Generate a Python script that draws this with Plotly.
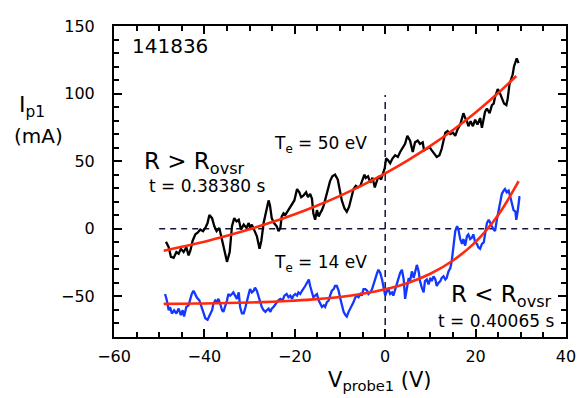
import plotly.graph_objects as go

# ---- data ----
black_v = [-48.5,-47.9,-47.4,-46.8,-46.2,-45.7,-45.2,-44.6,-44.0,-43.5,
           -43.1,-42.6,-42.0,-41.5,-40.9,-40.3,-39.8,-39.3,-38.9,-38.3,
           -37.8,-37.3,-36.7,-36.1,-35.6,-35.0,-34.4,-33.9,-33.4,-32.9,
           -32.4,-31.9,-31.3,-30.7,-30.2,-29.9,-29.5,-29.0,-28.4,-27.8,
           -27.4,-26.9,-26.3,-25.8,-25.5,-25.1,-24.6,
           -24.0,-23.6,-23.2,-22.9,-22.5,-22.1,-21.5,-21.0,-20.5,-20.1,
           -19.5,-19.0,-18.6,-18.1,-17.5,-17.1,-16.6,-16.2,-15.9,-15.5,
           -15.1,-14.7,-14.4,-14.0,-13.6,-13.3,-12.9,-12.5,-12.2,-11.7,
           -11.1,-10.5,-10.0,-9.6,-9.0,-8.5,-8.0,-7.5,-7.0,-6.5,
           -6.0,-5.5,-5.0,-4.6,-4.3,-3.8,-3.3,-2.8,-2.3,-1.8,
           -1.5,-0.9,-0.5,-0.1,0.2,0.6,1.1,1.6,2.2,2.8,
           3.3,3.8,
           4.4,4.9,5.5,6.1,6.6,7.2,7.7,8.3,8.6,9.2,
           9.8,10.3,10.8,11.4,12.0,12.5,12.9,13.3,13.8,14.4,
           15.0,15.5,16.0,16.6,17.0,17.3,17.7,18.1,18.4,18.9,
           19.4,19.9,20.4,21.0,21.4,21.8,22.1,22.5,23.1,23.6,
           24.0,24.3,24.9,25.3,25.8,26.3,26.8,27.1,27.5,27.8,
           28.2,28.5,28.8,29.1,29.5]
black_i = [-9.6,-13.6,-20.8,-21.5,-17.2,-18.4,-14.8,-17.2,-13.6,-19.6,
           -16.0,-8.8,-4.1,-2.9,-0.5,-1.7,0.7,4.3,10.3,7.9,
           1.9,-1.7,0.7,-7.6,-14.8,-24.4,-17.2,1.9,7.9,5.5,
           6.7,-0.5,3.1,0.7,4.3,0.7,3.1,-0.5,-5.3,-14.8,
           -8.8,4.3,13.8,21.0,17.4,7.9,4.3,
           1.9,-1.7,0.7,9.1,11.5,10.3,13.8,16.2,18.6,21.0,
           29.4,27.0,23.4,24.6,27.0,23.4,25.8,22.2,11.5,6.7,
           13.8,9.1,11.5,13.8,17.4,21.0,25.8,30.6,35.3,38.9,
           40.1,36.5,28.2,21.0,15.0,12.7,16.2,23.4,29.4,31.8,
           30.6,31.8,36.5,40.1,37.7,38.9,34.1,37.7,30.6,36.5,
           38.9,36.5,40.1,44.9,52.0,50.9,48.5,52.0,54.4,53.2,
           56.8,59.2,
           62.8,68.8,65.2,56.8,64.0,65.2,62.8,64.0,58.0,59.2,
           60.4,58.0,55.6,53.2,54.4,59.2,65.2,71.1,72.3,70.0,
           71.1,68.8,73.5,77.1,81.9,85.5,81.9,79.5,75.9,79.5,
           75.9,80.7,77.1,81.9,74.7,80.7,86.7,89.0,85.5,91.5,
           92.6,97.4,103.4,101.0,96.2,92.6,91.5,96.2,107.0,110.5,
           114.1,120.1,122.5,126.0,122.5]

blue_v = [-48.7,-48.3,-47.9,-47.6,-47.2,-46.7,-46.2,-45.7,-45.2,-44.8,
          -44.5,-44.0,-43.5,-43.1,-42.8,-42.4,-42.0,-41.7,-41.1,-40.6,
          -40.2,-39.8,-39.3,-38.9,-38.3,-38.0,-37.6,-37.3,-36.9,-36.5,
          -36.1,-35.8,-35.4,-35.0,-34.7,-34.3,-33.9,-33.6,-33.2,-32.8,
          -32.4,-32.1,-31.7,-31.3,-30.9,-30.6,-30.2,-29.9,-29.5,-29.1,
          -28.8,-28.4,-28.0,-27.7,-27.3,-26.9,-26.5,-26.2,-25.8,-25.4,
          -25.1,-24.7,
          -23.7,-23.2,-22.7,-22.3,-21.8,-21.4,-21.0,-20.6,-20.3,-19.9,
          -19.5,-19.2,-18.8,-18.4,-18.1,-17.7,-17.3,-16.9,-16.6,-16.2,
          -15.9,-15.5,-15.1,-14.7,-14.4,-14.0,-13.6,-13.3,-12.9,-12.5,
          -12.2,-11.8,-11.4,-11.1,-10.7,-10.3,-10.0,-9.6,-9.2,-8.8,
          -8.5,-8.1,-7.7,-7.4,-7.0,-6.6,-6.3,-5.9,-5.5,-5.2,
          -4.8,-4.4,-4.0,-3.7,-3.3,-2.9,-2.6,-2.2,-1.8,-1.5,
          -1.1,-0.7,-0.4,0.0,0.4,0.7,1.1,1.5,1.8,2.2,
          2.6,2.9,3.3,3.7,4.1,
          4.4,4.8,5.2,5.5,5.9,6.3,6.6,7.0,7.4,7.7,
          8.1,8.5,8.8,9.2,9.6,10.0,10.3,10.7,11.1,11.4,
          11.8,12.2,12.5,12.9,13.3,13.6,14.0,14.4,14.7,15.1,
          15.5,15.9,16.2,16.6,17.0,17.3,17.7,18.1,18.4,18.8,
          19.2,19.5,19.9,20.3,20.6,21.0,21.4,21.8,22.1,22.5,
          22.9,23.2,23.6,24.0,24.3,24.7,25.1,25.4,25.8,26.2,
          26.5,26.9,27.3,27.7,28.0,28.4,28.8,29.0,29.3,29.5,
          29.7,29.9]
blue_i = [-48.2,-53.0,-60.2,-57.8,-62.6,-60.2,-62.6,-59.0,-63.8,-60.2,
          -64.9,-57.8,-56.6,-51.8,-48.2,-45.8,-48.2,-50.6,-53.0,-57.8,
          -62.6,-66.1,-67.3,-64.9,-60.2,-55.4,-53.0,-54.2,-51.8,-55.4,
          -60.2,-61.4,-57.8,-53.0,-48.2,-49.4,-48.2,-47.0,-49.4,-51.8,
          -47.0,-57.8,-62.6,-62.6,-57.8,-53.0,-48.2,-44.6,-47.0,-45.8,
          -43.5,-45.8,-50.6,-53.0,-57.8,-60.2,-61.4,-60.2,-59.0,-61.4,
          -59.0,-57.8,
          -53.0,-51.8,-53.0,-49.4,-48.2,-50.6,-49.4,-51.8,-49.4,-48.2,
          -49.4,-47.0,-48.2,-45.8,-44.6,-42.3,-39.9,-37.5,-42.3,-48.2,
          -50.6,-49.4,-48.2,-53.0,-55.4,-57.8,-56.6,-57.8,-54.2,-53.0,
          -49.4,-45.8,-44.6,-42.3,-42.3,-45.8,-50.6,-56.6,-61.4,-63.8,
          -64.9,-61.4,-59.0,-56.6,-54.2,-50.6,-49.4,-50.6,-48.2,-49.4,
          -44.6,-44.6,-45.8,-48.2,-47.0,-44.6,-41.1,-36.3,-32.7,-30.3,
          -32.7,-37.5,-42.3,-49.4,-45.8,-44.6,-48.2,-47.0,-49.4,-44.6,
          -39.9,-36.3,-32.7,-30.3,-37.5,
          -51.8,-42.3,-36.3,-38.7,-31.5,-36.3,-31.5,-26.7,-31.5,-38.7,
          -43.5,-47.0,-38.7,-37.5,-41.1,-36.3,-38.7,-35.1,-37.5,-42.3,
          -39.9,-38.7,-36.3,-35.1,-37.5,-36.3,-31.5,-29.1,-24.4,-12.4,
          -1.7,1.9,-0.5,-7.6,-11.2,-7.6,-12.4,-5.3,-4.1,-7.6,
          -6.4,-4.1,-10.0,-11.2,-13.6,-14.8,-11.2,-10.0,-2.9,4.3,
          6.7,4.3,1.9,-0.5,-1.7,6.7,13.8,21.0,25.8,28.2,
          29.4,27.0,28.2,23.4,19.8,13.8,12.7,6.7,12.7,17.4,
          23.4,23.4]

fit_v = [-49, -45, -40, -35, -30, -25, -20, -15, -10, -5, 0, 5, 10, 15, 20, 25, 29]
fit_black_i = [-16.2, -13.3, -9.5, -5.1, -0.3, 5.0, 10.8, 17.3, 24.4, 32.3,
               41.0, 50.6, 61.3, 73.1, 86.1, 100.4, 113.0]
fit_blue_v = [-49, -45, -40, -35, -30, -25, -20, -15, -10, -5, 0, 5, 10, 15, 20, 25, 29, 29.5]
fit_blue_i = [-55.5, -55.4, -55.2, -54.9, -54.5, -53.9, -53.1, -52.0, -50.4, -48.0,
              -44.7, -40.0, -33.2, -23.4, -9.6, 10.3, 32.1, 35.3]

zero_h_v = [-50, 39.5]
zero_h_i = [0, 0]
zero_v_v = [0, 0]
zero_v_i = [-80, 99]

x_range = [-60, 40]
y_range = [-80, 150]

FONT = "DejaVu Sans"

fig = go.Figure()
fig.add_trace(go.Scatter(x=zero_h_v, y=zero_h_i, mode="lines",
                         line=dict(color="#15153a", width=1.5, dash="6px,5px"), hoverinfo="skip"))
fig.add_trace(go.Scatter(x=zero_v_v, y=zero_v_i, mode="lines",
                         line=dict(color="#15153a", width=1.5, dash="7px,5px"), hoverinfo="skip"))
fig.add_trace(go.Scatter(x=black_v, y=black_i, mode="lines",
                         line=dict(color="black", width=2.3)))
fig.add_trace(go.Scatter(x=blue_v, y=blue_i, mode="lines",
                         line=dict(color="#1238ff", width=2.3)))
fig.add_trace(go.Scatter(x=fit_v, y=fit_black_i, mode="lines", line_shape="spline",
                         line=dict(color="#ff2a0e", width=2.6)))
fig.add_trace(go.Scatter(x=fit_blue_v, y=fit_blue_i, mode="lines", line_shape="spline",
                         line=dict(color="#ff2a0e", width=2.6)))

axis_common = dict(showline=True, linecolor="black", linewidth=2, mirror="ticks",
                   ticks="inside", tickcolor="black", tickwidth=2, ticklen=8,
                   showgrid=False, zeroline=False,
                   tickfont=dict(family=FONT, size=16, color="black"))
fig.update_xaxes(range=x_range, dtick=20, tick0=0,
                 minor=dict(dtick=5, ticks="inside", ticklen=5, tickwidth=1.5, tickcolor="black"),
                 ticklabelstandoff=4, **axis_common)
fig.update_yaxes(range=y_range, dtick=50, tick0=0,
                 minor=dict(dtick=10, ticks="inside", ticklen=5, tickwidth=1.5, tickcolor="black"),
                 ticklabelstandoff=14, **axis_common)

def ann(text, x, y, size, xanchor="center", yanchor="middle", xref="x", yref="y"):
    fig.add_annotation(text=text, x=x, y=y, xref=xref, yref=yref, showarrow=False,
                       xanchor=xanchor, yanchor=yanchor,
                       font=dict(family=FONT, size=size, color="black"))

ann("141836", -56.5, 135, 20, xanchor="left")
ann("T<sub>e</sub> = 50 eV", -14.4, 62, 17)
ann("R &gt; R<sub>ovsr</sub>", -53.8, 49, 23, xanchor="left")
ann("t = 0.38380 s", -52.8, 32, 17, xanchor="left")
ann("T<sub>e</sub> = 14 eV", -14.4, -26, 17)
ann("R &lt; R<sub>ovsr</sub>", 37.4, -50, 23, xanchor="right")
ann("t = 0.40065 s", 37.8, -68, 17, xanchor="right")
# y-axis title (two lines) and x-axis title, placed in paper coordinates
ann("I<sub>p1</sub>", -0.214, 0.74, 22, xanchor="left", xref="paper", yref="paper")
ann("(mA)", -0.226, 0.645, 20, xanchor="left", xref="paper", yref="paper")
ann("V<sub>probe1</sub> (V)", 0.589, -0.14, 21, xref="paper", yref="paper")

# the page adds an 8px body margin, so the figure is sized and placed to compensate
fig.update_layout(
    width=580, height=390,
    margin=dict(l=106, r=22, t=9, b=61),
    paper_bgcolor="white", plot_bgcolor="white",
    showlegend=False,
    font=dict(family=FONT, color="black"),
)

fig.write_html("out.html")
